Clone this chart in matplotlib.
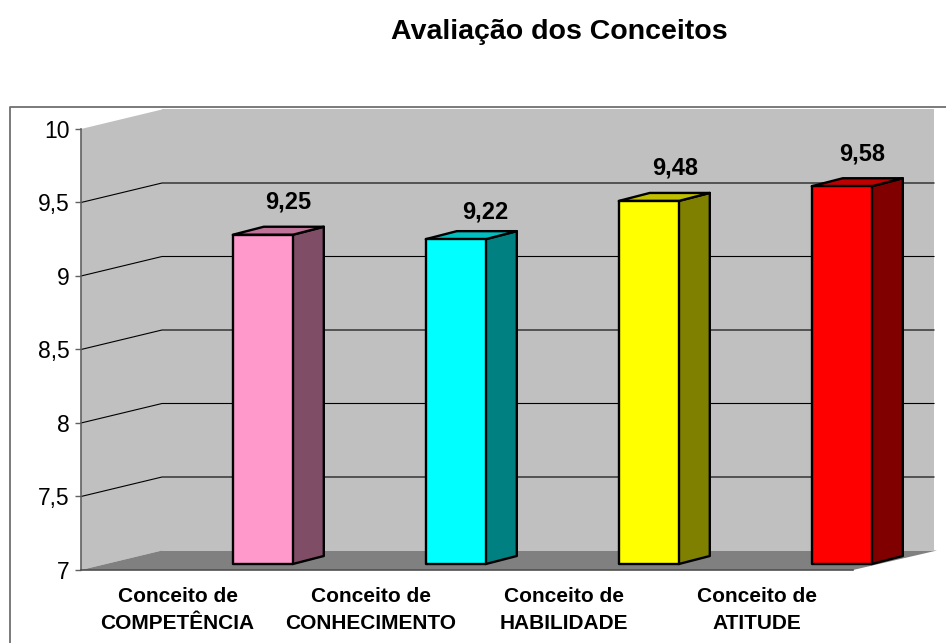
import matplotlib
matplotlib.use("Agg")
import matplotlib.pyplot as plt
from matplotlib.lines import Line2D
from matplotlib.patches import Polygon

plt.rcParams['font.family'] = ['Liberation Sans', 'DejaVu Sans']

# data
categories = ["Conceito de\nCOMPETÊNCIA", "Conceito de\nCONHECIMENTO",
              "Conceito de\nHABILIDADE", "Conceito de\nATITUDE"]
values = [9.25, 9.22, 9.48, 9.58]
value_labels = ["9,25", "9,22", "9,48", "9,58"]
y_ticks = [7, 7.5, 8, 8.5, 9, 9.5, 10]
y_tick_labels = ["7", "7,5", "8", "8,5", "9", "9,5", "10"]

# colours: front, top, side
front_cols = ["#FF99CC", "#00FFFF", "#FFFF00", "#FF0000"]
top_cols = ["#BF7399", "#00BFBF", "#BFBF00", "#BF0000"]
side_cols = ["#804D66", "#008080", "#808000", "#800000"]

W, H = 946, 643
fig = plt.figure(figsize=(W / 100, H / 100), dpi=100, facecolor="white")
L, R, T, B = 81, 853, 129, 570
ax = fig.add_axes([L / W, (H - B) / H, (R - L) / W, (B - T) / H])
ax.set_xlim(-0.5, 3.5)
ax.set_ylim(7, 10)
ax.patch.set_visible(False)

# pixel lengths to data units
ux = 4 / (R - L)
uy = 3 / (B - T)

# 3d depth of the chart box
box_dx = 81 * ux
box_dy = 19.5 * uy
x0, x1 = -0.5, 3.5
wall_right = x1 + 81 * ux

# walls and floor
ax.add_patch(Polygon([(x0, 7), (x0 + box_dx, 7 + box_dy), (x0 + box_dx, 10 + box_dy), (x0, 10)],
                     fc="#C0C0C0", ec="none", clip_on=False, zorder=1))
ax.add_patch(Polygon([(x0 + box_dx, 7 + box_dy), (wall_right, 7 + box_dy),
                      (wall_right, 10 + box_dy), (x0 + box_dx, 10 + box_dy)],
                     fc="#C0C0C0", ec="none", clip_on=False, zorder=1))
ax.add_patch(Polygon([(x0, 7), (x1, 7), (wall_right + 3 * ux, 7 + box_dy), (x0 + box_dx, 7 + box_dy)],
                     fc="#808080", ec="none", clip_on=False, zorder=1.5))

# grid lines
for t in y_ticks[1:-1]:
    ax.plot([x0, x0 + box_dx, wall_right], [t, t + box_dy, t + box_dy],
            color="black", lw=0.8, clip_on=False, zorder=2)

# bars
bar_w = 60 * ux
shift_x = 85.3 * ux
shift_y = 4.5 * uy
depth_x = 31 * ux
depth_y = 8 * uy
base = 7 + 6 * uy
label_dx = [25, 29, 26, 20]
label_dy = [33, 27, 33, 32]
for i, v in enumerate(values):
    xa = i + shift_x - bar_w / 2
    xb = xa + bar_w
    top = v + shift_y
    ax.add_patch(Polygon([(xb, base), (xb + depth_x, base + depth_y), (xb + depth_x, top + depth_y), (xb, top)],
                         fc=side_cols[i], ec="black", lw=1.7, joinstyle="round", clip_on=False, zorder=3))
    ax.add_patch(Polygon([(xa, top), (xb, top), (xb + depth_x, top + depth_y), (xa + depth_x, top + depth_y)],
                         fc=top_cols[i], ec="black", lw=1.7, joinstyle="round", clip_on=False, zorder=3))
    ax.add_patch(Polygon([(xa, base), (xb, base), (xb, top), (xa, top)],
                         fc=front_cols[i], ec="black", lw=1.7, joinstyle="round", clip_on=False, zorder=4))
    ax.text(i + shift_x + label_dx[i] * ux, top + label_dy[i] * uy, value_labels[i],
            ha="center", va="center", fontsize=17, fontweight="bold", color="black", zorder=5)

# axes
for s in ["top", "right"]:
    ax.spines[s].set_visible(False)
ax.spines["left"].set_color("#606060")
ax.spines["bottom"].set_color("#505050")
ax.spines["left"].set_linewidth(1.2)
ax.spines["bottom"].set_linewidth(1.2)
ax.spines["left"].set_zorder(2.5)
ax.spines["bottom"].set_zorder(2.5)
ax.set_yticks(y_ticks)
ax.set_yticklabels(y_tick_labels, fontsize=16.5)
ax.tick_params(axis="y", length=4, width=1, color="#606060", pad=4)
ax.set_xticks(range(4))
ax.set_xticklabels(categories, fontsize=15, fontweight="bold", linespacing=1.58)
ax.tick_params(axis="x", length=0, pad=12)

# outer border
fig.add_artist(Line2D([9.5 / W, 9.5 / W, 1], [0, 1 - 107 / H, 1 - 107 / H], color="#707070", lw=1.3))

fig.text(559 / W, 1 - 32 / H, "Avaliação dos Conceitos", ha="center", va="center",
         fontsize=20.5, fontweight="bold")

fig.savefig("out.png", dpi=100)
